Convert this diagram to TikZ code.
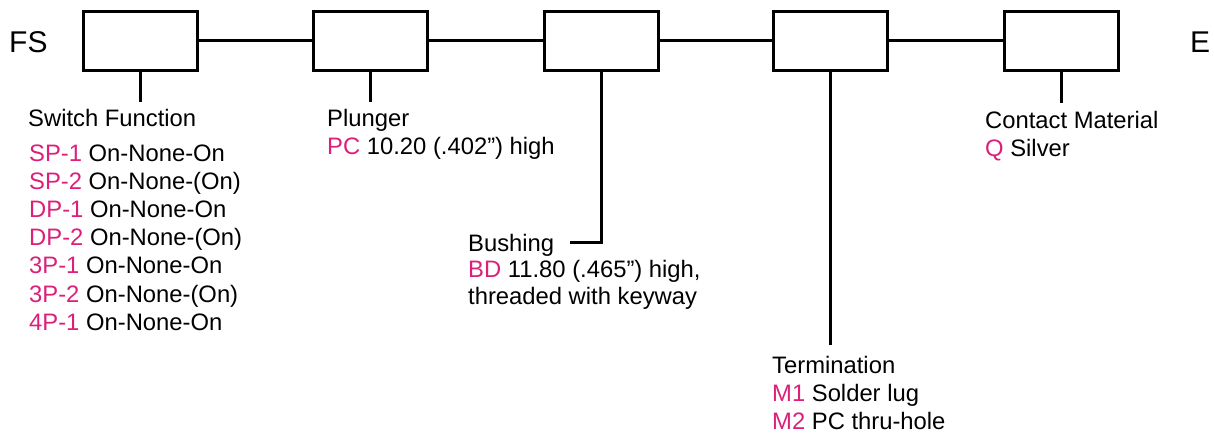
\documentclass[tikz,border=0pt]{standalone}
\usepackage{fontspec}
\setmainfont{Liberation Sans}
\usetikzlibrary{positioning}
\definecolor{codepink}{RGB}{220,32,122}
\newcommand{\pcode}[1]{\textcolor{codepink}{#1}}
\tikzset{
  partbox/.style={draw, line width=3pt, minimum width=114pt, minimum height=59pt, inner sep=0pt},
  link/.style={line width=3pt},
  legend/.style={anchor=base west, inner sep=0pt, font=\fontsize{23.8}{28}\selectfont},
  endmark/.style={anchor=base west, inner sep=0pt, font=\fontsize{30}{30}\selectfont}
}
\begin{document}
\begin{tikzpicture}[x=1pt,y=-1pt]
            \useasboundingbox (0,0) rectangle (1214,435);

            % Prefix and suffix
            \node[endmark] (fs) at (9,53) {FS};
            \node[endmark] (e) at (1190,53) {E};

            % Part number boxes
            \node[partbox] (b1) at (140.5,41) {};
            \node[partbox] (b2) at (370.5,41) {};
            \node[partbox] (b3) at (601,41) {};
            \node[partbox] (b4) at (830.5,41) {};
            \node[partbox] (b5) at (1061,41) {};

            % Links between boxes
            \draw[link] (b1) -- (b2);
            \draw[link] (b2) -- (b3);
            \draw[link] (b3) -- (b4);
            \draw[link] (b4) -- (b5);

            % Switch function
            \node[legend] (swtitle) at (28,127) {Switch Function};
            \foreach \code/\desc [count=\i from 0] in {SP-1/On-None-On, SP-2/On-None-(On),
                DP-1/On-None-On, DP-2/On-None-(On), 3P-1/On-None-On, 3P-2/On-None-(On),
                4P-1/On-None-On}
              \node[legend] (swopt\i) at (29,{162+28*\i}) {\pcode{\code} \desc};
            \draw[link] (b1.south) -- ([yshift=8pt]b1.south |- swtitle.north);

            % Plunger
            \node[legend] (plutitle) at (327,127) {Plunger};
            \node[legend] (pluopt) at (327,155) {\pcode{PC} 10.20 (.402'') high};
            \draw[link] (b2.south) -- ([yshift=8pt]b2.south |- plutitle.north);

            % Bushing
            \node[legend] (bushtitle) at (468,252) {Bushing};
            \node[legend] (bushopt) at (468,278) {\pcode{BD} 11.80 (.465'') high,};
            \node[legend] (bushnote) at (468,305) {threaded with keyway};
            \draw[link] (b3.south) |- ([xshift=16pt,yshift=3pt]bushtitle.east);

            % Termination
            \node[legend] (termtitle) at (772,373) {Termination};
            \node[legend] (termopt1) at (772,401) {\pcode{M1} Solder lug};
            \node[legend] (termopt2) at (772,429) {\pcode{M2} PC thru-hole};
            \draw[link] (b4.south) -- ([yshift=11pt]b4.south |- termtitle.north);

            % Contact material
            \node[legend] (conttitle) at (985,129) {Contact Material};
            \node[legend] (contopt) at (985,157) {\pcode{Q} Silver};
            \draw[link] (b5.south) -- ([yshift=9pt]b5.south |- conttitle.north);

        \end{tikzpicture}
\end{document}
